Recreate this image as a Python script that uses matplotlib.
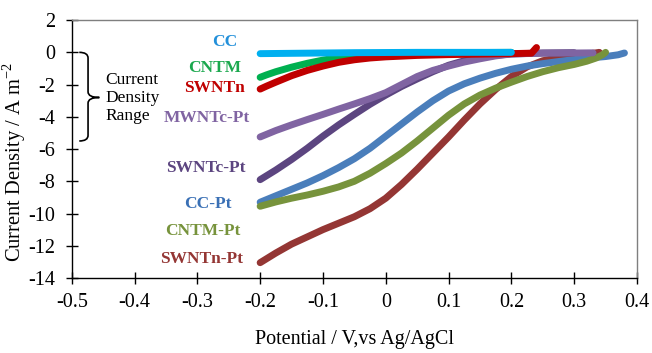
import matplotlib

matplotlib.use("Agg")
import matplotlib.pyplot as plt
from matplotlib.patches import PathPatch
from matplotlib.path import Path

plt.rcParams["font.family"] = ["Liberation Serif", "DejaVu Serif"]
plt.rcParams["axes.unicode_minus"] = False

# potential (V vs Ag/AgCl) and current density (A m-2)
cc_x = [-0.2, -0.15, -0.1, -0.05, 0.0, 0.05, 0.1, 0.15, 0.2]
cc_y = [-0.08, -0.06, -0.04, -0.02, -0.01, 0.0, 0.0, 0.0, 0.0]

cntm_x = [-0.2, -0.19, -0.175, -0.15, -0.125, -0.1, -0.075, -0.05, -0.025, 0.0, 0.05, 0.1, 0.15, 0.2]
cntm_y = [-1.55, -1.4, -1.2, -0.92, -0.68, -0.48, -0.32, -0.2, -0.12, -0.07, -0.03, -0.02, -0.01, 0.0]

swntn_x = [-0.2, -0.19, -0.175, -0.15, -0.125, -0.1, -0.075, -0.05, -0.025, 0.0, 0.05, 0.1, 0.15,
           0.2, 0.232, 0.24]
swntn_y = [-2.28, -2.1, -1.85, -1.45, -1.12, -0.85, -0.62, -0.46, -0.35, -0.28, -0.19, -0.14, -0.11,
           -0.08, -0.05, 0.3]

mwntc_pt_x = [-0.2, -0.175, -0.15, -0.125, -0.1, -0.075, -0.05, -0.025, 0.0, 0.025, 0.05, 0.075,
              0.1, 0.125, 0.15, 0.175, 0.2, 0.25, 0.3, 0.33]
mwntc_pt_y = [-5.25, -4.85, -4.5, -4.17, -3.85, -3.52, -3.2, -2.87, -2.5, -2.0, -1.5, -1.12,
              -0.85, -0.6, -0.4, -0.22, -0.1, -0.05, -0.04, -0.03]

swntc_pt_x = [-0.2, -0.175, -0.15, -0.125, -0.1, -0.075, -0.05, -0.025, 0.0, 0.025, 0.05, 0.075,
              0.1, 0.125, 0.15, 0.175, 0.2, 0.25, 0.3]
swntc_pt_y = [-7.9, -7.3, -6.65, -5.95, -5.2, -4.5, -3.85, -3.22, -2.65, -2.12, -1.65, -1.2,
              -0.8, -0.52, -0.33, -0.18, -0.1, -0.04, -0.02]

cc_pt_x = [-0.2, -0.175, -0.15, -0.125, -0.1, -0.075, -0.05, -0.025, 0.0, 0.025, 0.05, 0.075,
           0.1, 0.125, 0.15, 0.175, 0.2, 0.225, 0.25, 0.275, 0.3, 0.325, 0.35, 0.37, 0.38]
cc_pt_y = [-9.3, -8.9, -8.5, -8.1, -7.65, -7.15, -6.6, -5.95, -5.2, -4.45, -3.7, -3.0,
           -2.4, -1.95, -1.6, -1.3, -1.05, -0.85, -0.7, -0.57, -0.45, -0.35, -0.26, -0.15, -0.04]

cntm_pt_x = [-0.2, -0.175, -0.15, -0.125, -0.1, -0.075, -0.05, -0.025, 0.0, 0.025, 0.05, 0.075,
             0.1, 0.125, 0.15, 0.175, 0.2, 0.225, 0.25, 0.275, 0.3, 0.32, 0.335, 0.345, 0.35]
cntm_pt_y = [-9.55, -9.28, -9.05, -8.85, -8.62, -8.35, -8.0, -7.5, -6.9, -6.25, -5.5, -4.7,
             -3.9, -3.2, -2.65, -2.22, -1.85, -1.5, -1.2, -0.95, -0.75, -0.55, -0.35, -0.15, 0.0]

swntn_pt_x = [-0.2, -0.175, -0.15, -0.125, -0.1, -0.075, -0.05, -0.025, 0.0, 0.025, 0.05, 0.075,
              0.1, 0.125, 0.15, 0.175, 0.2, 0.225, 0.25, 0.275, 0.3, 0.32, 0.34]
swntn_pt_y = [-13.05, -12.45, -11.9, -11.45, -11.0, -10.6, -10.2, -9.7, -9.05, -8.2, -7.25, -6.25,
              -5.25, -4.2, -3.2, -2.3, -1.5, -0.9, -0.52, -0.33, -0.22, -0.12, 0.0]

x_ticks = [-0.5, -0.4, -0.3, -0.2, -0.1, 0.0, 0.1, 0.2, 0.3, 0.4]
x_tick_labels = ["-0.5", "-0.4", "-0.3", "-0.2", "-0.1", "0", "0.1", "0.2", "0.3", "0.4"]
y_ticks = [-14, -12, -10, -8, -6, -4, -2, 0, 2]

# drawn bottom to top: (name, x, y, line colour, label colour, label x, label y)
series = [
    ("SWNTn-Pt", swntn_pt_x, swntn_pt_y, "#943634", "#943634", -0.227, -12.8),
    ("CC-Pt", cc_pt_x, cc_pt_y, "#4A7EBB", "#3A70B5", -0.246, -9.44),
    ("CNTM-Pt", cntm_pt_x, cntm_pt_y, "#77933C", "#77933C", -0.232, -11.06),
    ("SWNTc-Pt", swntc_pt_x, swntc_pt_y, "#5C4580", "#5C4580", -0.224, -7.2),
    ("MWNTc-Pt", mwntc_pt_x, mwntc_pt_y, "#8064A2", "#8064A2", -0.217, -4.1),
    ("CNTM", cntm_x, cntm_y, "#00B050", "#1BA84E", -0.230, -1.0),
    ("SWNTn", swntn_x, swntn_y, "#C00000", "#C00000", -0.224, -2.24),
    ("CC", cc_x, cc_y, "#00B0F0", "#2390DA", -0.236, 0.62),
]

fig = plt.figure(figsize=(6.52, 3.53), dpi=100)
ax = fig.add_axes([0.110, 0.2125, 0.867, 0.7305])

for name, xs, ys, color, label_color, lx, ly in series:
    ax.plot(xs, ys, color=color, lw=5, solid_capstyle="round", solid_joinstyle="round")
    ax.text(lx, ly, name, color=label_color, fontsize=12.5, fontweight="bold",
            ha="right", va="center")

# curly brace marking the current density range
brace = Path(
    [(-0.488, 0.0), (-0.474, 0.0), (-0.474, -0.35),
     (-0.474, -2.45), (-0.474, -2.8), (-0.456, -2.8),
     (-0.474, -2.8), (-0.474, -3.15),
     (-0.474, -5.15), (-0.474, -5.5), (-0.488, -5.5)],
    [Path.MOVETO, Path.CURVE3, Path.CURVE3,
     Path.LINETO, Path.CURVE3, Path.CURVE3,
     Path.CURVE3, Path.CURVE3,
     Path.LINETO, Path.CURVE3, Path.CURVE3],
)
ax.add_patch(PathPatch(brace, fill=False, lw=1.2, color="black"))
ax.text(-0.446, -2.85, "Current\nDensity\nRange", fontsize=12.5, ha="left",
        va="center", linespacing=1.15)

ax.set_xlim(-0.5, 0.4)
ax.set_ylim(-14, 2)
ax.set_xticks(x_ticks)
ax.set_xticklabels(x_tick_labels)
ax.set_yticks(y_ticks)
ax.tick_params(direction="inout", length=8, width=1.0, labelsize=14.5, pad=7)
ax.tick_params(axis="y", pad=8)

for side in ("left", "bottom"):
    ax.spines[side].set_color("black")
    ax.spines[side].set_linewidth(1.0)
for side in ("top", "right"):
    ax.spines[side].set_color("#7F7F7F")
    ax.spines[side].set_linewidth(1.0)

ax.set_xlabel("Potential / V,vs Ag/AgCl", fontsize=14.5)
ax.xaxis.set_label_coords(0.5, -0.2)
ax.set_ylabel("Current Density / A m$^{\\mathregular{-2}}$", fontsize=14.8)
ax.yaxis.set_label_coords(-0.078, 0.45)

fig.savefig("out.png", dpi=100)
